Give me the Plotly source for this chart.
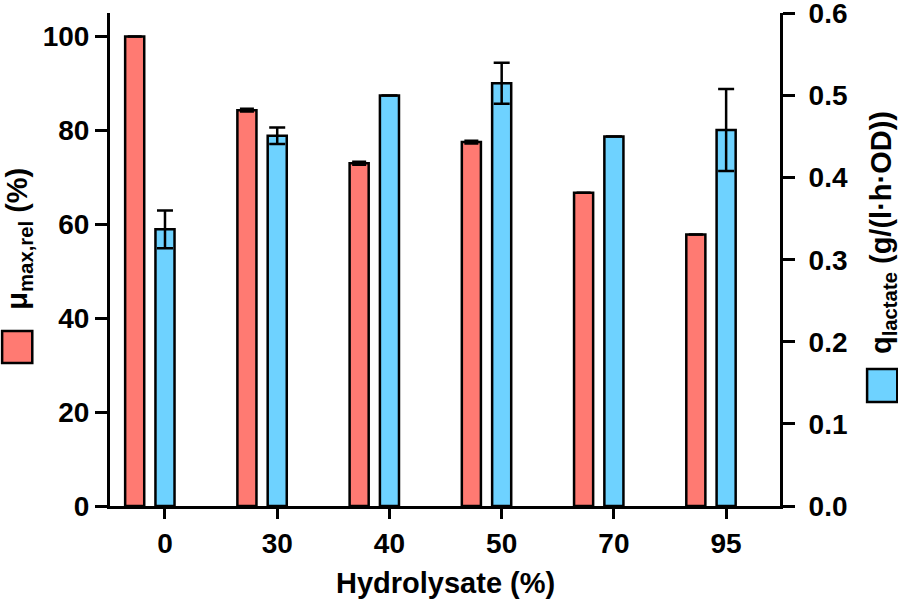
import plotly.graph_objects as go

categories = ["0", "30", "40", "50", "70", "95"]
mu_rel = [100, 84.3, 73.0, 77.5, 66.7, 57.8]
mu_err = [0, 0.3, 0.3, 0.3, 0, 0]
q_lactate = [0.337, 0.451, 0.500, 0.515, 0.450, 0.458]
q_err = [0.023, 0.010, 0, 0.025, 0, 0.050]

RED = "#FF7A72"
BLUE = "#6ED2FF"
FONT = "Liberation Sans, Arial, sans-serif"

idx = list(range(len(categories)))
red_x = [i - 0.27 for i in idx]

fig = go.Figure()
fig.add_trace(go.Bar(
    x=red_x, y=mu_rel, width=0.17, marker=dict(color=RED, line=dict(color="black", width=2.5)),
    error_y=dict(type="data", array=mu_err, visible=True, color="black", thickness=2.5, width=7),
    yaxis="y", showlegend=False, hoverinfo="skip"))
fig.add_trace(go.Bar(
    x=idx, y=q_lactate, width=0.17, marker=dict(color=BLUE, line=dict(color="black", width=2.5)),
    error_y=dict(type="data", array=q_err, visible=True, color="black", thickness=2.5, width=8),
    yaxis="y2", showlegend=False, hoverinfo="skip"))

axfont = dict(family=FONT, size=28, color="black", weight="bold")
fig.update_layout(
    width=898, height=602, barmode="overlay",
    margin=dict(l=110, r=118, t=13, b=96, autoexpand=False),
    plot_bgcolor="white", paper_bgcolor="white",
    xaxis=dict(range=[-0.49, 5.48], tickvals=idx, ticktext=categories, showline=True,
               linecolor="black", linewidth=3, ticks="outside", ticklen=10, tickwidth=3,
               tickcolor="black", tickfont=axfont, showgrid=False, zeroline=False,
               ticklabelstandoff=0, automargin=False),
    yaxis=dict(range=[0, 105], tickvals=[0, 20, 40, 60, 80, 100], showline=True,
               linecolor="black", linewidth=3, ticks="outside", ticklen=12, tickwidth=3,
               tickcolor="black", tickfont=axfont, showgrid=False, zeroline=False,
               ticklabeloverflow="allow", automargin=False),
    yaxis2=dict(range=[0, 0.6005], tickvals=[0, 0.1, 0.2, 0.3, 0.4, 0.5, 0.6],
                ticktext=["0.0", "0.1", "0.2", "0.3", "0.4", "0.5", "0.6"],
                overlaying="y", side="right", showline=True,
                linecolor="black", linewidth=3, ticks="outside", ticklen=12, tickwidth=3,
                tickcolor="black", tickfont=axfont, showgrid=False, zeroline=False,
                ticklabelstandoff=8, ticklabeloverflow="allow", automargin=False),
)

tfont = dict(family=FONT, size=29, color="black", weight="bold")
fig.add_annotation(text="Hydrolysate (%)", xref="paper", yref="paper", x=0.5, y=-0.156,
                   xanchor="center", yanchor="middle", showarrow=False, font=tfont)
fig.add_annotation(text="μ<sub>max,rel</sub> (%)", xref="paper", yref="paper",
                   x=-0.136, y=0.542, xanchor="center", yanchor="middle", textangle=-90,
                   showarrow=False, font=tfont)
fig.add_annotation(text="q<sub>lactate</sub> (g/(l·h·OD))", xref="paper", yref="paper",
                   x=1.154, y=0.554, xanchor="center", yanchor="middle", textangle=-90,
                   showarrow=False, font=tfont)

fig.add_shape(type="rect", xref="paper", yref="paper", x0=-0.161, x1=-0.116, y0=0.290, y1=0.355,
              fillcolor=RED, line=dict(color="black", width=2.5))
fig.add_shape(type="rect", xref="paper", yref="paper", x0=1.130, x1=1.175, y0=0.211, y1=0.278,
              fillcolor=BLUE, line=dict(color="black", width=2.5))

fig.write_html("out.html", config={"displayModeBar": False},
               post_script="document.body.style.margin='0';")
